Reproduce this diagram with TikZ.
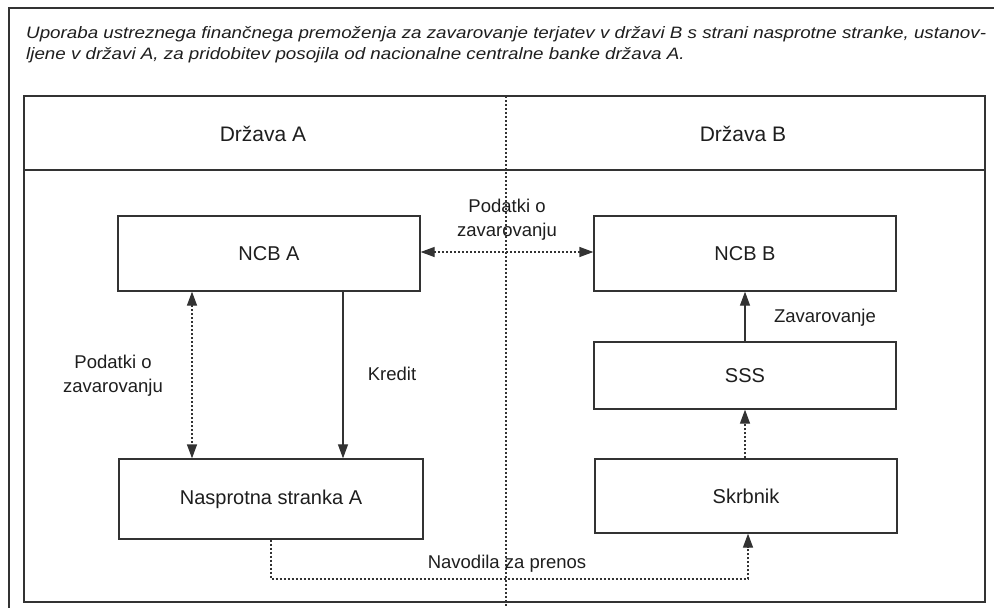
\documentclass[tikz,border=0pt]{standalone}
\usepackage{fontspec}
\setmainfont{Liberation Sans}
\usetikzlibrary{arrows.meta}
\definecolor{linegray}{HTML}{333333}
\definecolor{textgray}{HTML}{1E1E1E}
\newsavebox{\capbox}
\begin{document}
\begin{tikzpicture}[x=1pt,y=-1pt,
  frameline/.style={draw=linegray,line width=1.3pt},
  box/.style={draw=linegray,line width=1.3pt,minimum width=302pt,inner sep=0pt,
    font=\fontsize{20}{24}\selectfont,text=textgray},
  hdr/.style={font=\fontsize{21}{25}\selectfont,text=textgray,inner sep=0pt},
  lbl/.style={font=\fontsize{18.5}{24}\selectfont,text=textgray,align=center,inner sep=0pt},
  tip/.style={-{Triangle[length=14pt,width=10pt]}},
  dtip/.style={{Triangle[length=14pt,width=10pt]}-{Triangle[length=14pt,width=10pt]}},
  solidarrow/.style={draw=linegray,line width=1.2pt},
  dotarrow/.style={draw=linegray,line width=1.3pt,dash pattern=on 2pt off 2pt},
  captxt/.style={anchor=base west,inner sep=0pt,text=textgray,
    font=\fontsize{16.5}{20}\selectfont\itshape}
]
\useasboundingbox (0,0) rectangle (994,608);
\fill[white] (0,0) rectangle (994,608);

% outer frame
\coordinate (otl) at (9,8);
\coordinate (otr) at (994,8);
\coordinate (obl) at (9,608);
\draw[frameline] (otr) -- (otl) -- (obl);

% caption
\node[captxt] (cap1) at (26,38.5) {\savebox{\capbox}{Uporaba ustreznega finančnega premoženja za zavarovanje terjatev v državi B s strani nasprotne stranke, ustanov-}\pgfmathsetmacro{\capsx}{960/\wd\capbox}\global\let\gcapsx\capsx\scalebox{\capsx}[1]{\usebox{\capbox}}};
\node[captxt] (cap2) at (26,59) {\scalebox{\gcapsx}[1]{ljene v državi A, za pridobitev posojila od nacionalne centralne banke država A.}};

% inner frame
\coordinate (ftl) at (24,96);
\coordinate (fbr) at (985,602);
\draw[frameline] (ftl) rectangle (fbr);
\coordinate (hl) at (24,170);
\coordinate (hr) at (985,170);
\draw[frameline] (hl) -- (hr);
\coordinate (divt) at (506,96);
\coordinate (divb) at (506,608);
\draw[dotarrow] (divt) -- (divb);

\node[hdr] (da) at (263,134) {Država A};
\node[hdr] (db) at (743,134) {Država B};

% boxes
\node[box,minimum height=75pt] (ncba) at (269,253.5) {NCB A};
\node[box,minimum height=75pt] (ncbb) at (745,253.5) {NCB B};
\node[box,minimum height=67pt] (sss) at (745,375.5) {SSS};
\node[box,minimum height=74pt] (skr) at (746,496) {Skrbnik};
\node[box,minimum height=80pt,minimum width=304pt] (nas) at (271,499) {Nasprotna stranka A};

% connectors
\draw[dotarrow,dtip] (ncba.east |- 0,252) -- (ncbb.west |- 0,252);
\node[lbl] (lpod1) at (507,220) {Podatki o\\zavarovanju};

\draw[dotarrow,dtip] (ncba.south -| 192,0) -- (nas.north -| 192,0);
\node[lbl] (lpod2) at (113,376) {Podatki o\\zavarovanju};

\draw[solidarrow,tip] (ncba.south -| 343,0) -- (nas.north -| 343,0);
\node[lbl] (lkred) at (392,374) {Kredit};

\draw[solidarrow,tip] (sss.north -| 745,0) -- (ncbb.south -| 745,0);
\node[lbl] (lzav) at (825,318) {Zavarovanje};

\draw[dotarrow,tip] (skr.north -| 745,0) -- (sss.south -| 745,0);

\coordinate (nav1) at (271,579);
\coordinate (nav2) at (748,579);
\draw[dotarrow,tip] (nas.south -| 271,0) -- (nav1) -- (nav2) -- (skr.south -| 748,0);
\node[lbl] (lnav) at (507,564) {Navodila za prenos};
\end{tikzpicture}
\end{document}
